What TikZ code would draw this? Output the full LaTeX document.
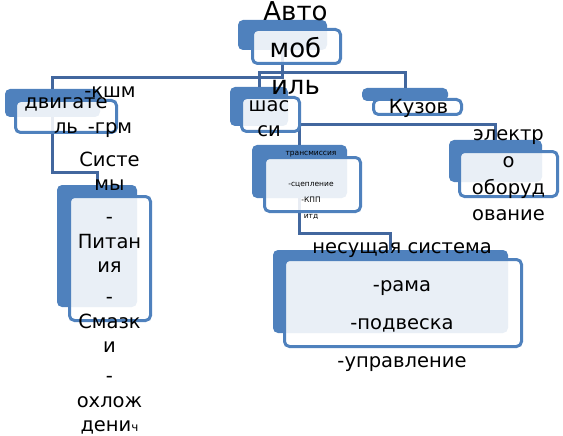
\documentclass[tikz,border=0pt]{standalone}
\usepackage{fontspec}
\setmainfont{DejaVu Sans}
\definecolor{smblue}{RGB}{79,129,189}
\definecolor{linkblue}{RGB}{66,103,158}
\begin{document}
\begin{tikzpicture}[x=1pt,y=-1pt,
  backbox/.style={fill=smblue,rounded corners=5pt,inner sep=0pt},
  frontbox/.style={draw=smblue,line width=3pt,fill=white,fill opacity=0.88,rounded corners=5pt,inner sep=0pt},
  link/.style={draw=linkblue,line width=3pt},
  lbl/.style={font=\fontsize{19.5}{25}\selectfont,align=center,inner sep=0pt,anchor=north}]
\useasboundingbox (0,0) rectangle (563,436);
\node[backbox,minimum width=89pt,minimum height=30pt](avtoB) at (282.5,35){};%корень
\node[backbox,minimum width=95pt,minimum height=28pt](dvigB) at (52.5,103){};
\node[backbox,minimum width=58pt,minimum height=39pt](shassiB) at (259,106.5){};
\node[backbox,minimum width=86pt,minimum height=13pt](kuzovB) at (405,94.5){};
\node[backbox,minimum width=80pt,minimum height=122pt](sistB) at (97,246){};
\node[backbox,minimum width=95pt,minimum height=53pt](transB) at (299.5,171.5){};
\node[backbox,minimum width=235pt,minimum height=83pt](nesB) at (390.5,291.5){};
\node[backbox,minimum width=93pt,minimum height=42pt](elekB) at (495.5,161){};
\draw[link](avtoB.south)--++(0,27)-|(dvigB.north);%к двигателю
\draw[link](avtoB.south)--++(0,22)-|(shassiB.north);%к шасси
\draw[link](avtoB.south)--++(0,22)-|(kuzovB.north);%к кузову
\draw[link](dvigB.south)--++(0,55)-|(sistB.north);%к системам
\coordinate(shJoin) at (299.5,125);
\draw[link](shJoin)-|(elekB.north);%к электрооборудованию
\draw[link](shJoin)--(transB.north);%к трансмиссии
\draw[link](transB.south)--++(0,35)-|(nesB.north);%к несущей системе
\node[frontbox,minimum width=88pt,minimum height=34pt](avto) at (296.5,46.5){};
\node[frontbox,minimum width=101pt,minimum height=32pt](dvig) at (66,116.5){};
\node[frontbox,minimum width=58pt,minimum height=34pt](shassi) at (270.5,114.5){};
\node[frontbox,minimum width=88pt,minimum height=15pt](kuzov) at (417.5,107){};
\node[frontbox,minimum width=81pt,minimum height=124pt](sist) at (110,258.5){};
\node[frontbox,minimum width=96pt,minimum height=54pt](trans) at (312.5,184.5){};
\node[frontbox,minimum width=237pt,minimum height=87pt](nes) at (403,303){};
\node[frontbox,minimum width=98pt,minimum height=45pt](elek) at (508.5,174){};
\node[lbl,font=\fontsize{26}{37}\selectfont](avtoT) at (295.5,1.7){Авто\\моб\\иль};
\node[lbl](dvigT) at (66,97.7){двигате\\ль};
\node[lbl,font=\fontsize{19.5}{35.5}\selectfont](dvigSub) at (110,86.7){-кшм\\-грм};
\node[lbl](shassiT) at (269,100.7){шас\\си};
\node[lbl,anchor=base](kuzovT) at (418.5,113.5){Кузов};
\node[lbl,font=\fontsize{19.5}{24.5}\selectfont](sistT) at (109.5,151.8){Систе\\мы\\[8.5pt]-\\Питан\\ия\\[6.5pt]-\\Смазк\\и\\[5.5pt]-\\охлож\\дени{\fontsize{12}{12}\selectfont ч}};
\node[lbl,font=\fontsize{7.5}{16.3}\selectfont](transT) at (311,150.6){трансмиссия\\[15pt]-сцепление\\-КПП\\итд};
\node[lbl,font=\fontsize{19.5}{26.7}\selectfont](elekT) at (508.5,129.7){электр\\о\\оборуд\\ование};
\node[lbl,font=\fontsize{19.5}{38}\selectfont](nesT) at (402,242.7){несущая система\\-рама\\-подвеска\\-управление};
\end{tikzpicture}
\end{document}
